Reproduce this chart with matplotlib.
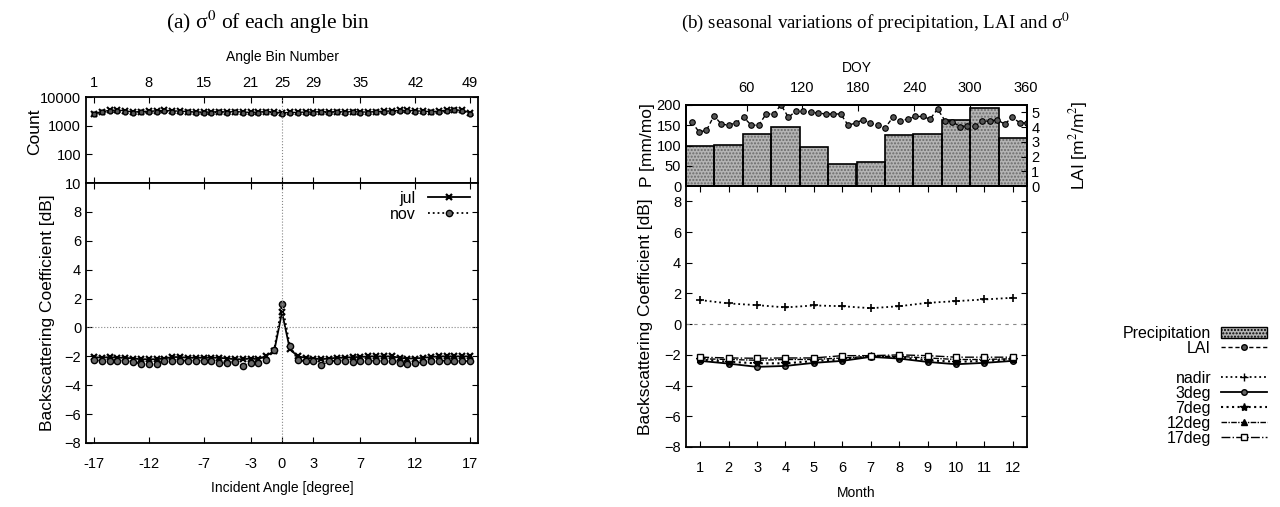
import numpy as np
import matplotlib
matplotlib.use('Agg')
import matplotlib.pyplot as plt
from matplotlib.lines import Line2D
from matplotlib.patches import Patch

plt.rcParams['font.family'] = ['Liberation Sans', 'DejaVu Sans']
plt.rcParams['mathtext.fontset'] = 'stix'

# ---- panel (a) data ----
bins = list(range(1, 50))
bin_ticks = [1, 8, 15, 21, 25, 29, 35, 42, 49]
angle_labels = ['-17', '-12', '-7', '-3', '0', '3', '7', '12', '17']

count_jul = [2600, 3100, 3400, 3500, 3300, 3000, 3100, 3200, 3300, 3400,
             3300, 3200, 3100, 3000, 3000, 3000, 3100, 3000, 3100, 3000,
             2900, 3000, 3100, 3000, 2800, 2900, 2900, 3000, 3000, 3100,
             3000, 3100, 3000, 3100, 3000, 3000, 3100, 3200, 3300, 3400,
             3400, 3300, 3200, 3100, 3200, 3500, 3600, 3400, 2800]
count_nov = [2500, 2900, 3200, 3300, 3100, 2800, 2900, 3000, 3100, 3200,
             3100, 3000, 2900, 2800, 2800, 2800, 2900, 2800, 2900, 2800,
             2700, 2800, 2900, 2800, 2600, 2700, 2700, 2800, 2800, 2900,
             2800, 2900, 2800, 2900, 2800, 2800, 2900, 3000, 3100, 3200,
             3200, 3100, 3000, 2900, 3000, 3300, 3400, 3200, 2600]

sig_jul = [-2.05, -2.1, -2.05, -2.1, -2.1, -2.15, -2.2, -2.2, -2.2, -2.15,
           -2.05, -2.05, -2.1, -2.1, -2.1, -2.1, -2.1, -2.15, -2.2, -2.2,
           -2.15, -2.2, -1.95, -1.65, 1.05, -1.5, -2.0, -2.1, -2.15, -2.2,
           -2.15, -2.1, -2.1, -2.05, -2.05, -2.0, -2.0, -2.0, -2.0, -2.1,
           -2.15, -2.15, -2.1, -2.05, -2.0, -2.0, -2.0, -2.0, -2.0]
sig_nov = [-2.25, -2.3, -2.35, -2.3, -2.3, -2.4, -2.5, -2.55, -2.5, -2.35,
           -2.3, -2.3, -2.3, -2.3, -2.35, -2.3, -2.45, -2.45, -2.4, -2.65,
           -2.45, -2.45, -2.25, -1.55, 1.6, -1.25, -2.25, -2.35, -2.3, -2.6,
           -2.35, -2.3, -2.3, -2.4, -2.3, -2.3, -2.3, -2.3, -2.3, -2.45,
           -2.5, -2.45, -2.4, -2.3, -2.3, -2.3, -2.3, -2.3, -2.35]

# ---- panel (b) data ----
months = list(range(1, 13))
precip = [100, 102, 129, 146, 96, 55, 59, 127, 129, 163, 192, 119]
lai_doy = list(range(1, 366, 8))
lai = [4.36, 3.67, 3.78, 4.77, 4.2, 4.13, 4.31, 4.66, 4.13, 4.13,
       4.89, 4.89, 5.5, 4.66, 5.1, 5.1, 5.0, 4.95, 4.89, 4.89,
       4.89, 4.13, 4.27, 4.5, 4.27, 4.13, 3.97, 4.66, 4.43, 4.54,
       4.72, 4.72, 4.54, 5.23, 4.43, 4.36, 4.04, 4.08, 4.08, 4.43,
       4.38, 4.5, 4.2, 4.66, 4.31, 4.27]
nadir = [1.57, 1.35, 1.24, 1.09, 1.22, 1.17, 1.04, 1.17, 1.39, 1.5, 1.61, 1.72]
deg3 = [-2.39, -2.57, -2.78, -2.72, -2.52, -2.39, -2.13, -2.24, -2.46, -2.61, -2.52, -2.39]
deg7 = [-2.3, -2.45, -2.55, -2.55, -2.4, -2.3, -2.1, -2.15, -2.35, -2.45, -2.4, -2.3]
deg12 = [-2.25, -2.3, -2.35, -2.3, -2.3, -2.2, -2.1, -2.1, -2.2, -2.3, -2.3, -2.25]
deg17 = [-2.15, -2.2, -2.22, -2.2, -2.2, -2.05, -2.05, -2.0, -2.05, -2.15, -2.15, -2.15]

W, H = 1280, 507
fig = plt.figure(figsize=(W / 100, H / 100), dpi=100)

def box(x0, y0, x1, y1):
    return [x0 / W, 1 - y1 / H, (x1 - x0) / W, (y1 - y0) / H]

TK = 10.5   # tick labels
XL = 10     # x labels
YL = 12.5   # y labels
LG = 11.5   # legends

def style(ax):
    ax.tick_params(direction='in', labelsize=TK, length=4, width=0.8,
                   top=True, right=True)
    for s in ax.spines.values():
        s.set_linewidth(1.3)

# ===== panel (a) =====
axc = fig.add_axes(box(86, 97, 478, 183))
axs = fig.add_axes(box(86, 183, 478, 443))

axc.set_yscale('log')
axc.plot(bins, count_jul, '-', color='k', lw=1, marker='x', ms=4, mew=1.5)
axc.plot(bins, count_nov, ':', color='k', lw=1, marker='o', ms=3.5, mfc='#555555')
axc.axvline(25, color='#888888', ls=':', lw=0.8)
axc.set_ylim(10, 10000)
axc.set_xlim(0, 50)
axc.set_yticks([10, 100, 1000, 10000])
axc.set_yticklabels(['10', '100', '1000', '10000'])
axc.minorticks_off()
axc.set_xticks(bin_ticks)
style(axc)
axc.tick_params(labelbottom=False, labeltop=True)
axc.tick_params(axis='x', pad=5)
axc.xaxis.set_label_position('top')
axc.set_xlabel('Angle Bin Number', fontsize=XL, labelpad=11)
axc.set_ylabel('Count', fontsize=YL)
axc.yaxis.set_label_coords(-0.112, 0.6)

axs.plot(bins, sig_jul, '-', color='k', lw=1.3, marker='x', ms=4.5, mew=1.6, label='jul')
axs.plot(bins, sig_nov, ':', color='k', lw=1.3, marker='o', ms=4.5, mfc='#666666', label='nov')
axs.axhline(0, color='#888888', ls=':', lw=0.8)
axs.axvline(25, color='#888888', ls=':', lw=0.8)
axs.set_xlim(0, 50)
axs.set_ylim(-8, 10)
axs.set_yticks(range(-8, 10, 2))
axs.set_xticks(bin_ticks)
axs.set_xticklabels(angle_labels)
style(axs)
axs.tick_params(axis='x', pad=10)
axs.set_xlabel('Incident Angle [degree]', fontsize=XL, labelpad=7)
axs.set_ylabel('Backscattering Coefficient [dB]', fontsize=YL)
axs.yaxis.set_label_coords(-0.079, 0.5)
axs.legend(loc='upper right', frameon=False, markerfirst=False, fontsize=LG,
           handlelength=2.6, labelspacing=0.05, borderaxespad=0.1)

fig.text(268 / W, 1 - 22 / H, '(a) σ$^0$ of each angle bin',
         family='Liberation Serif', fontsize=15.5, ha='center', va='center')

# ===== panel (b) =====
axp = fig.add_axes(box(686, 105, 1027, 186))
axm = fig.add_axes(box(686, 186, 1027, 447))

axp.bar(months, precip, width=1.0, color='#b4b4b4', hatch='.....',
        edgecolor='#6a6a6a', linewidth=0)
axp.bar(months, precip, width=1.0, fill=False, edgecolor='k', linewidth=1.2)
axp.set_xlim(0.5, 12.5)
axp.set_ylim(0, 200)
axp.set_yticks(range(0, 201, 50))
axp.set_xticks([])
style(axp)
axp.tick_params(right=False, top=False)
axp.set_ylabel('P [mm/mo]', fontsize=YL)
axp.yaxis.set_label_coords(-0.091, 0.5)

axd = axp.twiny()
axd.set_xlim(-5, 361)
axd.set_xticks(range(60, 361, 60))
axl = axd.twinx()
axl.plot(lai_doy, lai, color='k', lw=1.0, marker='o', ms=4,
         mfc='#555555', mec='k', mew=0.8, dashes=(3, 2))
axl.set_ylim(0, 5.5)
axl.set_yticks(range(0, 6))
for a in (axd, axl):
    a.tick_params(direction='in', labelsize=TK, length=4, width=0.8)
axd.tick_params(axis='x', pad=7)
axd.set_xlabel('DOY', fontsize=XL, labelpad=7)
axl.tick_params(axis='y', pad=3)
axl.set_ylabel(r'LAI [m$^2$/m$^2$]', fontsize=YL)
axl.yaxis.set_label_coords(1.117, 0.5)
for s in list(axd.spines.values()) + list(axl.spines.values()):
    s.set_linewidth(1.3)

axm.plot(months, nadir, ':', color='k', lw=1.3, marker='+', ms=6, mew=1.2, label='nadir')
axm.plot(months, deg3, '-', color='k', lw=1.3, marker='o', ms=4, mfc='#666666', label='3deg')
axm.plot(months, deg7, ':', color='k', lw=1.5, marker='*', ms=6, label='7deg')
axm.plot(months, deg12, color='k', lw=1.0, marker='^', ms=4, dashes=(4, 1, 1, 1), label='12deg')
axm.plot(months, deg17, '-.', color='k', lw=1.0, marker='s', ms=4.5, mfc='white', label='17deg')
axm.axhline(0, color='#888888', ls=(0, (3, 4)), lw=0.8)
axm.set_xlim(0.5, 12.5)
axm.set_ylim(-8, 9)
axm.set_yticks(range(-8, 9, 2))
axm.set_xticks(months)
style(axm)
axm.tick_params(axis='x', pad=10)
axm.set_xlabel('Month', fontsize=XL, labelpad=8)
axm.set_ylabel('Backscattering Coefficient [dB]', fontsize=YL)
axm.yaxis.set_label_coords(-0.097, 0.5)

fig.text(876 / W, 1 - 22 / H,
         '(b) seasonal variations of precipitation, LAI and σ$^0$',
         family='Liberation Serif', fontsize=13.7, ha='center', va='center')

# combined legend at right
handles = [Patch(facecolor='#b4b4b4', edgecolor='k', hatch='.....'),
           Line2D([], [], color='k', lw=1.0, marker='o', ms=4, mfc='#555555', dashes=(3, 2)),
           Line2D([], [], ls='none'),
           Line2D([], [], color='k', ls=':', lw=1.3, marker='+', ms=6),
           Line2D([], [], color='k', ls='-', lw=1.3, marker='o', ms=4, mfc='#666666'),
           Line2D([], [], color='k', ls=':', lw=1.5, marker='*', ms=6),
           Line2D([], [], color='k', lw=1.0, marker='^', ms=4, dashes=(4, 1, 1, 1)),
           Line2D([], [], color='k', ls='-.', lw=1.0, marker='s', ms=4.5, mfc='white')]
labels = ['Precipitation', 'LAI', ' ', 'nadir', '3deg', '7deg', '12deg', '17deg']
fig.legend(handles, labels, loc='upper right', bbox_to_anchor=(1275 / W, 1 - 318 / H),
           frameon=False, markerfirst=False, fontsize=LG, handlelength=2.9,
           labelspacing=0.0, handletextpad=0.6, borderpad=0)

fig.savefig('out.png', dpi=100)
